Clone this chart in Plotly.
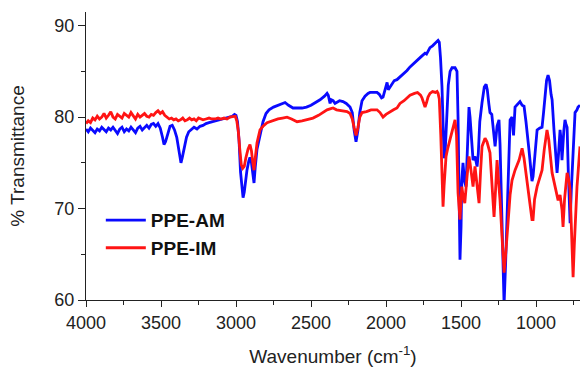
import plotly.graph_objects as go

# PPE-AM (blue)
am_wn = [4000, 3985, 3970, 3955, 3940, 3925, 3910, 3895, 3880, 3865, 3850, 3835, 3820, 3805, 3790,
         3775, 3760, 3745, 3730, 3715, 3700, 3685, 3670, 3655, 3640, 3625, 3610, 3595, 3580, 3565,
         3550, 3535, 3520, 3505, 3490, 3480, 3470, 3455, 3440, 3425, 3410, 3395, 3385, 3375, 3367,
         3358, 3345, 3330, 3315, 3300, 3280, 3260, 3240, 3220, 3200, 3180, 3160, 3140, 3120, 3100,
         3080, 3060, 3040, 3025, 3010, 3000, 2990, 2980, 2970, 2960, 2953, 2945, 2935, 2927, 2915,
         2907, 2897, 2888, 2880, 2872, 2860, 2840, 2820, 2800, 2780, 2750, 2720, 2690, 2673, 2650,
         2620, 2590, 2560, 2530, 2500, 2470, 2440, 2410, 2393, 2385, 2373, 2365, 2353, 2340, 2327,
         2310, 2287, 2265, 2240, 2225, 2212, 2200, 2188, 2175, 2160, 2140, 2120, 2107, 2085, 2060,
         2045, 2030, 2020, 2010, 2000, 1993, 1985, 1973, 1960, 1945, 1927, 1907, 1880, 1860, 1840,
         1810, 1780, 1760, 1753, 1740, 1730, 1720, 1707, 1690, 1670, 1660, 1653, 1645, 1637, 1627,
         1620, 1613, 1605, 1595, 1585, 1573, 1560, 1540, 1527, 1520, 1513, 1507, 1500, 1495, 1487,
         1477, 1467, 1457, 1447, 1440, 1430, 1420, 1407, 1393, 1385, 1375, 1360, 1345, 1333, 1325,
         1315, 1307, 1295, 1285, 1273, 1260, 1247, 1240, 1233, 1225, 1213, 1203, 1193, 1185, 1173,
         1160, 1150, 1140, 1120, 1107, 1093, 1080, 1067, 1060, 1047, 1033, 1027, 1020, 1010, 1000,
         993, 975, 960, 950, 940, 930, 920, 910, 900, 893, 880, 873, 860, 850, 840,
         833, 827, 815, 807, 800, 793, 785, 773, 765, 753, 740, 727, 720, 707]
am_t = [78.7, 78.4, 78.8, 78.5, 78.3, 78.7, 78.5, 78.9, 78.6, 78.4, 78.8, 78.6, 78.9, 78.5, 78.2,
        78.7, 78.9, 78.4, 78.7, 78.5, 78.9, 78.6, 78.3, 78.8, 79.0, 78.6, 78.9, 79.1, 78.8, 79.2,
        79.3, 79.0, 79.3, 78.8, 77.8, 77.0, 77.3, 78.3, 79.0, 79.1, 78.6, 77.8, 76.8, 75.6, 75.0,
        75.6, 76.8, 77.8, 78.4, 78.6, 78.9, 78.7, 79.0, 79.1, 79.3, 79.4, 79.5, 79.6, 79.7, 79.8,
        79.9, 80.0, 80.1, 80.1, 80.3, 80.2, 79.5, 77.5, 74.0, 71.8, 71.2, 71.8, 73.5, 74.2, 75.2,
        75.6, 75.0, 73.5, 72.8, 74.5, 76.5, 78.0, 79.5, 80.4, 80.8, 81.1, 81.3, 81.5, 81.6, 81.3,
        81.0, 81.0, 81.0, 81.1, 81.3, 81.6, 81.9, 82.3, 82.6, 82.4, 81.5, 81.9, 81.8, 81.5, 81.6,
        81.8, 81.7, 81.5, 81.1, 80.5, 78.5, 77.3, 78.5, 80.5, 81.8, 82.3, 82.6, 82.7, 82.7, 82.7,
        82.5, 82.1, 82.2, 82.8, 83.5, 83.8, 83.0, 83.3, 83.6, 84.0, 84.1, 84.4, 84.7, 85.1, 85.5,
        85.9, 86.4, 86.7, 86.8, 87.0, 86.9, 87.2, 87.6, 87.8, 88.1, 88.3, 88.4, 88.2, 86.5, 83.3,
        78.0, 75.5, 76.5, 80.0, 83.5, 85.0, 85.4, 85.4, 85.0, 80.0, 70.0, 64.4, 68.0, 73.0, 75.0,
        73.0, 72.4, 77.0, 81.1, 80.0, 77.0, 75.3, 75.7, 74.6, 76.0, 79.5, 81.6, 83.3, 83.6, 83.0,
        81.5, 80.5, 80.3, 79.0, 76.8, 79.0, 79.7, 77.0, 73.0, 66.0, 59.5, 64.0, 69.9, 75.0, 79.7,
        80.0, 78.0, 81.1, 81.5, 81.7, 81.3, 81.2, 79.5, 78.6, 76.4, 74.0, 73.0, 73.5, 75.5, 78.0,
        78.6, 78.8, 78.9, 80.5, 82.7, 84.0, 84.6, 84.0, 82.5, 81.9, 78.5, 77.2, 73.9, 76.0, 78.6,
        77.5, 75.3, 78.5, 79.7, 79.2, 78.9, 74.0, 68.4, 72.0, 76.7, 80.5, 80.8, 81.1, 81.3]

# PPE-IM (red)
im_wn = [4000, 3985, 3970, 3955, 3940, 3925, 3910, 3895, 3880, 3865, 3850, 3835, 3820, 3805, 3790,
         3775, 3760, 3745, 3730, 3715, 3700, 3685, 3670, 3655, 3640, 3625, 3610, 3595, 3580, 3565,
         3550, 3535, 3520, 3505, 3490, 3475, 3460, 3445, 3430, 3415, 3400, 3385, 3370, 3355, 3340,
         3325, 3310, 3295, 3280, 3265, 3250, 3235, 3220, 3200, 3180, 3160, 3140, 3120, 3100, 3080,
         3060, 3040, 3020, 3005, 2995, 2985, 2975, 2965, 2955, 2945, 2935, 2920, 2907, 2897, 2888,
         2880, 2872, 2860, 2840, 2820, 2793, 2760, 2720, 2690, 2660, 2630, 2593, 2560, 2520, 2487,
         2450, 2420, 2393, 2373, 2353, 2330, 2300, 2260, 2240, 2225, 2212, 2200, 2188, 2175, 2160,
         2130, 2100, 2060, 2040, 2020, 2000, 1973, 1950, 1927, 1907, 1880, 1860, 1840, 1810, 1790,
         1770, 1760, 1750, 1740, 1730, 1720, 1707, 1690, 1670, 1660, 1653, 1645, 1635, 1627, 1620,
         1613, 1605, 1600, 1590, 1573, 1560, 1540, 1530, 1520, 1507, 1495, 1487, 1475, 1460, 1447,
         1440, 1420, 1407, 1393, 1380, 1370, 1360, 1340, 1327, 1307, 1295, 1280, 1270, 1260, 1250,
         1240, 1227, 1213, 1200, 1187, 1173, 1160, 1140, 1113, 1093, 1080, 1073, 1060, 1047, 1033,
         1027, 1020, 1010, 993, 975, 960, 945, 927, 915, 905, 893, 873, 853, 840, 827,
         820, 810, 793, 780, 773, 763, 753, 745, 727, 707]
im_t = [79.3, 79.6, 79.4, 79.9, 79.7, 80.1, 79.8, 80.0, 80.4, 79.9, 80.2, 80.6, 80.0, 79.8, 80.3,
        80.1, 79.9, 80.4, 80.2, 80.0, 80.5, 80.1, 79.8, 80.3, 80.0, 80.2, 80.4, 80.1, 80.0, 80.3,
        80.2, 80.5, 80.7, 80.4, 80.6, 80.2, 80.0, 79.8, 79.9, 79.7, 79.8, 79.6, 79.7, 79.9, 79.6,
        79.7, 79.9, 79.7, 79.8, 79.6, 79.9, 79.8, 79.7, 79.8, 79.9, 79.8, 79.8, 79.9, 79.8, 79.9,
        79.8, 80.0, 80.1, 80.1, 79.6, 78.5, 76.5, 74.8, 74.4, 74.6, 75.5, 76.5, 77.0, 76.3, 75.0,
        74.2, 75.5, 77.2, 78.6, 79.0, 79.4, 79.6, 79.8, 79.9, 80.0, 79.8, 79.5, 79.6, 79.8, 79.9,
        80.2, 80.5, 80.8, 80.9, 81.0, 80.8, 80.7, 80.6, 80.4, 79.8, 78.8, 78.0, 78.8, 80.0, 80.5,
        80.6, 80.8, 80.8, 80.5, 80.0, 80.3, 80.6, 80.8, 81.0, 81.5, 81.8, 82.1, 82.4, 82.6, 82.7,
        82.4, 82.1, 81.6, 81.1, 81.6, 82.2, 82.6, 82.8, 82.7, 82.8, 82.6, 82.0, 78.0, 73.0, 70.2,
        72.5, 75.0, 75.7, 76.5, 77.5, 78.5, 79.7, 78.0, 71.7, 68.8, 72.4, 71.5, 70.6, 73.5, 75.7,
        75.0, 72.4, 74.6, 72.5, 70.6, 74.0, 76.8, 77.7, 77.3, 76.1, 73.0, 69.1, 72.0, 75.3, 73.0,
        70.9, 67.0, 63.0, 65.5, 68.8, 71.5, 73.1, 74.2, 75.3, 76.6, 75.5, 74.6, 72.5, 70.9, 69.5,
        68.8, 68.8, 71.0, 72.4, 73.5, 74.2, 76.5, 78.6, 77.5, 75.5, 73.9, 72.4, 70.9, 71.5, 69.9,
        68.0, 71.0, 73.9, 73.0, 72.0, 66.5, 62.5, 66.0, 72.4, 76.8]

x_ticks = [4000, 3500, 3000, 2500, 2000, 1500, 1000]
y_ticks = [60, 70, 80, 90]

FONT = "Liberation Sans, Arial, sans-serif"

fig = go.Figure()
fig.add_trace(go.Scatter(x=am_wn, y=am_t, mode="lines", name="<b>PPE-AM</b>",
                         line=dict(color="#0a0aff", width=2.8)))
fig.add_trace(go.Scatter(x=im_wn, y=im_t, mode="lines", name="<b>PPE-IM</b>",
                         line=dict(color="#ff1414", width=2.8)))

axis_font = dict(family=FONT, size=18, color="#222222")
fig.update_layout(
    width=580, height=371,
    margin=dict(l=86, r=0, t=12, b=71),
    paper_bgcolor="white", plot_bgcolor="white",
    font=dict(family=FONT, color="#222222"),
    showlegend=True,
    legend=dict(x=0.03, y=0.343, xanchor="left", yanchor="top",
                bgcolor="rgba(0,0,0,0)", tracegroupgap=0,
                font=dict(family=FONT, size=19, color="#111111"),
                itemwidth=40),
    xaxis=dict(range=[4000, 707], tickvals=x_ticks, ticktext=[str(v) for v in x_ticks],
               automargin=False,
               showgrid=False, zeroline=False, showline=True, linecolor="#222222", linewidth=1.2,
               ticks="outside", ticklen=6, tickwidth=1.2, tickcolor="#222222",
               minor=dict(dtick=250, ticks="outside", ticklen=4, tickwidth=1.2, tickcolor="#222222"),
               tickfont=axis_font,
               title=dict(text="Wavenumber (cm<sup>-1</sup>)", standoff=17,
                          font=dict(family=FONT, size=19, color="#222222"))),
    yaxis=dict(range=[60, 91.5], tickvals=y_ticks,
               automargin=False,
               showgrid=False, zeroline=False, showline=True, linecolor="#222222", linewidth=1.2,
               ticks="outside", ticklen=7, tickwidth=1.2, tickcolor="#222222",
               minor=dict(dtick=5, ticks="outside", ticklen=4, tickwidth=1.2, tickcolor="#222222"),
               tickfont=axis_font,
               title=dict(text="% Transmittance", standoff=24,
                          font=dict(family=FONT, size=19, color="#222222"))),
)

fig.write_html("out.html",
               config={"displayModeBar": False},
               post_script="document.body.style.margin='0';document.body.style.overflow='hidden';")
